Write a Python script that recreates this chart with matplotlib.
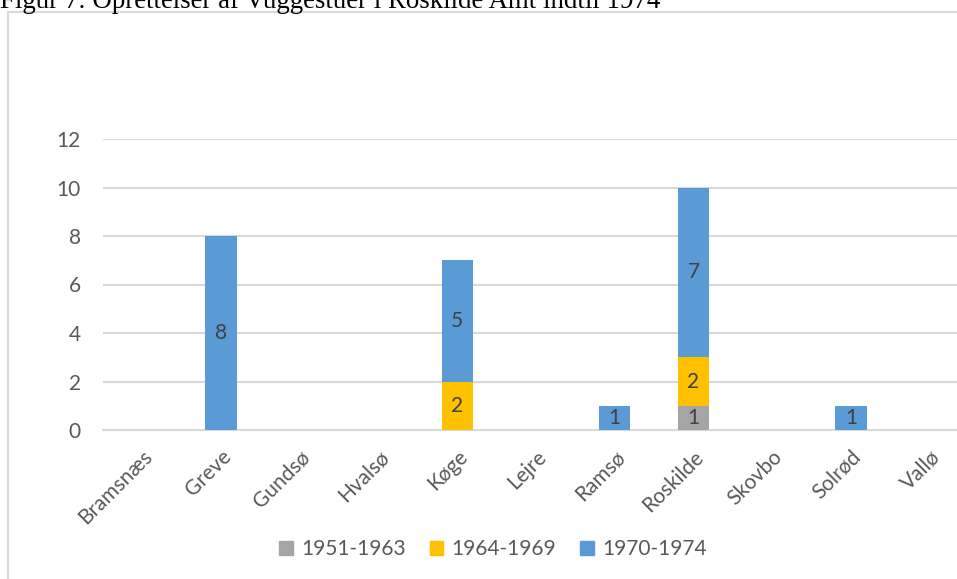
import numpy as np
import matplotlib.pyplot as plt
import matplotlib.transforms as mtransforms
from matplotlib.patches import Rectangle, Patch

# Data
kommuner = ["Bramsnæs", "Greve", "Gundsø", "Hvalsø", "Køge", "Lejre",
            "Ramsø", "Roskilde", "Skovbo", "Solrød", "Vallø"]
periods = ["1951-1963", "1964-1969", "1970-1974"]
v_1951_1963 = [0, 0, 0, 0, 0, 0, 0, 1, 0, 0, 0]
v_1964_1969 = [0, 0, 0, 0, 2, 0, 0, 2, 0, 0, 0]
v_1970_1974 = [0, 8, 0, 0, 5, 0, 1, 7, 0, 1, 0]
y_ticks = [0, 2, 4, 6, 8, 10, 12]

COLORS = ["#a5a5a5", "#ffc000", "#5b9bd5"]
TEXT_COLOR = "#595959"
LABEL_COLOR = "#404040"
GRID_COLOR = "#d9d9d9"
FONT = ["Lato", "DejaVu Sans"]
FS = 15

W, H = 957, 579
fig = plt.figure(figsize=(W / 100, H / 100), dpi=100)
plt.rcParams["font.family"] = FONT

# title, partly cut at the top like the source
fig.text(0, 1 - 8 / H, "Figur 7: Oprettelser af Vuggestuer i Roskilde Amt indtil 1974",
         family=["Liberation Serif"], fontsize=19.4, color="black",
         ha="left", va="baseline")

# light chart-area frame, running off the right and bottom edges
fig.patches.append(Rectangle((8 / W, -0.05), 1.1, 1 - 12 / H + 0.05,
                             transform=fig.transFigure, fill=False,
                             edgecolor=GRID_COLOR, linewidth=1.5))

# plot area: x band runs past the right edge of the image
left, right = 103, 969
bottom, top = 430, 139
ax = fig.add_axes([left / W, 1 - bottom / H, (right - left) / W, (bottom - top) / H])

x = np.arange(len(kommuner))
series = [v_1951_1963, v_1964_1969, v_1970_1974]
base = np.zeros(len(kommuner))
for vals, color, label in zip(series, COLORS, periods):
    vals = np.array(vals, dtype=float)
    ax.bar(x, vals, 0.4, bottom=base, color=color, label=label,
           linewidth=0, zorder=3)
    for xi, b, v in zip(x, base, vals):
        if v > 0:
            ax.text(xi, b + v / 2, f"{int(v)}", ha="center", va="center",
                    fontsize=FS, color=LABEL_COLOR, zorder=4)
    base += vals

ax.set_xlim(-0.5, len(kommuner) - 0.5)
ax.set_ylim(0, 12)
ax.set_yticks(y_ticks)
ax.set_xticks(x)
ax.set_xticklabels(kommuner, rotation=45, ha="right", va="top",
                   rotation_mode="anchor")
shift = mtransforms.ScaledTranslation(8 / 100, 0, fig.dpi_scale_trans)
for lbl in ax.get_xticklabels():
    lbl.set_transform(lbl.get_transform() + shift)
ax.tick_params(axis="both", length=0, labelsize=FS, colors=TEXT_COLOR)
ax.tick_params(axis="y", pad=16)
ax.tick_params(axis="x", pad=12)
ax.grid(axis="y", color=GRID_COLOR, linewidth=1.5, zorder=0)
for side in ["top", "right", "left"]:
    ax.spines[side].set_visible(False)
ax.spines["bottom"].set_color(GRID_COLOR)
ax.spines["bottom"].set_linewidth(1.5)
ax.set_facecolor("none")

handles = [Patch(color=c, label=l) for c, l in zip(COLORS, periods)]
fig.legend(handles=handles, loc="center", bbox_to_anchor=(493 / W, 1 - 549 / H),
           ncol=3, frameon=False, fontsize=FS, handlelength=0.65,
           handleheight=0.65, handletextpad=0.4, columnspacing=1.15,
           labelcolor=TEXT_COLOR)

fig.savefig("out.png", dpi=100)
